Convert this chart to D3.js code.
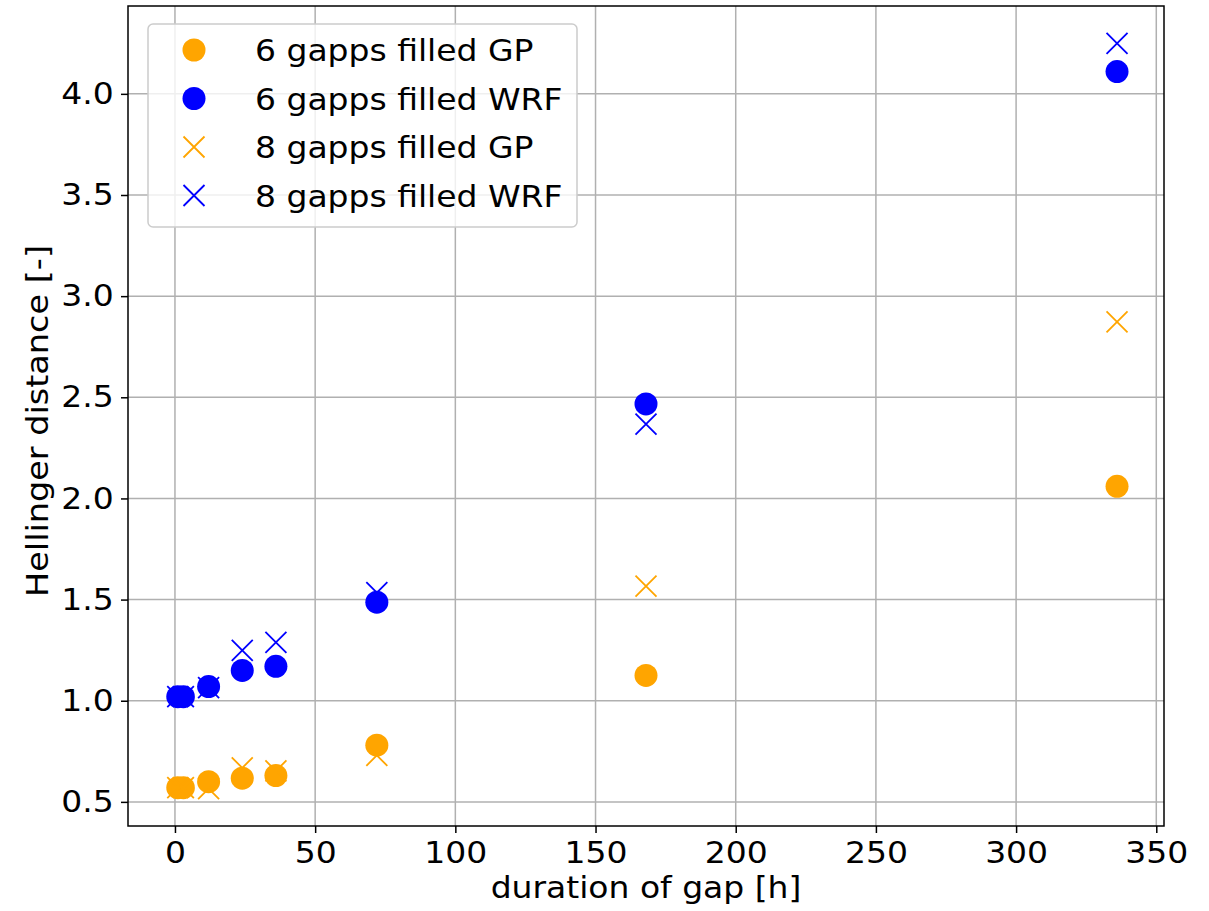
<!DOCTYPE html>
<html>
<head>
<meta charset="utf-8">
<script src="https://cdn.jsdelivr.net/npm/d3@7"></script>
<style>
  body { margin: 0; background: #fff; }
  text { font-family: "DejaVu Sans", sans-serif; }
</style>
</head>
<body>
<div id="chart"></div>
<script>
// gap durations in hours
var gapHours = [1, 3, 12, 24, 36, 72, 168, 336];

var gp6  = [0.57, 0.57, 0.60, 0.617, 0.63, 0.78, 1.125, 2.06];
var wrf6 = [1.02, 1.02, 1.07, 1.15, 1.17, 1.487, 2.467, 4.11];
var gp8  = [0.57, 0.57, 0.565, 0.668, 0.653, 0.73, 1.566, 2.873];
var wrf8 = [1.02, 1.02, 1.065, 1.249, 1.288, 1.534, 2.367, 4.25];

var xTicks = [0, 50, 100, 150, 200, 250, 300, 350];
var yTicks = [0.5, 1.0, 1.5, 2.0, 2.5, 3.0, 3.5, 4.0];

var seriesNames = ["6 gapps filled GP", "6 gapps filled WRF", "8 gapps filled GP", "8 gapps filled WRF"];

var W = 1209, H = 911;
var margin = {left: 128, right: 45, top: 6, bottom: 85};
var sx = 1.1; // the picture's text is a bit wide

var series = [
  {name: seriesNames[0], vals: gp6,  color: "orange", shape: "circle"},
  {name: seriesNames[1], vals: wrf6, color: "blue",   shape: "circle"},
  {name: seriesNames[2], vals: gp8,  color: "orange", shape: "cross"},
  {name: seriesNames[3], vals: wrf8, color: "blue",   shape: "cross"}
];

// matplotlib-like 5% padding
var xr = d3.extent(gapHours), xpad = (xr[1] - xr[0]) * 0.05;
var allY = [].concat(gp6, wrf6, gp8, wrf8);
var yr = d3.extent(allY), ypad = (yr[1] - yr[0]) * 0.05;

var x = d3.scaleLinear().domain([xr[0] - 1 - xpad, xr[1] + xpad]).range([margin.left, W - margin.right]);
var y = d3.scaleLinear().domain([yr[0] - ypad, yr[1] + ypad]).range([H - margin.bottom, margin.top]);

var svg = d3.select("#chart").append("svg")
  .attr("width", W)
  .attr("height", H);

// grid
svg.append("g").selectAll("line.gx")
  .data(xTicks).enter().append("line")
  .attr("x1", function(d){ return x(d); }).attr("x2", function(d){ return x(d); })
  .attr("y1", margin.top).attr("y2", H - margin.bottom)
  .attr("stroke", "#b0b0b0").attr("stroke-width", 1.5);
svg.append("g").selectAll("line.gy")
  .data(yTicks).enter().append("line")
  .attr("y1", function(d){ return y(d); }).attr("y2", function(d){ return y(d); })
  .attr("x1", margin.left).attr("x2", W - margin.right)
  .attr("stroke", "#b0b0b0").attr("stroke-width", 1.5);

// axes
var xAxis = svg.append("g")
  .attr("transform", "translate(0," + (H - margin.bottom) + ")")
  .call(d3.axisBottom(x).tickValues(xTicks).tickFormat(d3.format("d")).tickSize(7).tickPadding(6));
var yAxis = svg.append("g")
  .attr("transform", "translate(" + margin.left + ",0)")
  .call(d3.axisLeft(y).tickValues(yTicks).tickFormat(d3.format(".1f")).tickSize(7).tickPadding(6));

[xAxis, yAxis].forEach(function(a){
  a.select(".domain").remove();
  a.selectAll(".tick line").attr("stroke", "#000").attr("stroke-width", 1.5);
  a.selectAll(".tick text").attr("fill", "#000").style("font-size", "30px")
    .attr("transform", "scale(" + sx + ",1)");
});
xAxis.selectAll(".tick text").attr("dy", "0.8em");

// spines
svg.append("rect")
  .attr("x", margin.left).attr("y", margin.top)
  .attr("width", W - margin.left - margin.right)
  .attr("height", H - margin.top - margin.bottom)
  .attr("fill", "none").attr("stroke", "#000").attr("stroke-width", 1.5);

// axis titles
svg.append("text")
  .attr("transform", "translate(" + ((margin.left + W - margin.right) / 2) + "," + (H - 13) + ") scale(" + sx + ",1)")
  .attr("text-anchor", "middle")
  .style("font-size", "30px")
  .text("duration of gap [h]");
svg.append("text")
  .attr("transform", "translate(48,421) rotate(-90) scale(1,0.92)")
  .attr("text-anchor", "middle")
  .style("font-size", "33.5px")
  .text("Hellinger distance [-]");

function drawMarker(g, shape, color, cx, cy) {
  if (shape === "circle") {
    g.append("circle").attr("cx", cx).attr("cy", cy).attr("r", 11.5).attr("fill", color);
  } else {
    var s = 10.5;
    g.append("path")
      .attr("d", "M" + (cx - s) + "," + (cy - s) + "L" + (cx + s) + "," + (cy + s) +
                 "M" + (cx - s) + "," + (cy + s) + "L" + (cx + s) + "," + (cy - s))
      .attr("stroke", color).attr("stroke-width", 1.8).attr("fill", "none");
  }
}

// points
var plot = svg.append("g");
series.forEach(function(s){
  var g = plot.append("g");
  gapHours.forEach(function(h, i){
    drawMarker(g, s.shape, s.color, x(h), y(s.vals[i]));
  });
});

// legend
var legend = svg.append("g").attr("class", "legend");
legend.append("rect")
  .attr("x", 148).attr("y", 24).attr("width", 429).attr("height", 203)
  .attr("rx", 5).attr("ry", 5)
  .attr("fill", "#fff").attr("fill-opacity", 0.8)
  .attr("stroke", "#ccc").attr("stroke-width", 1.5);
series.forEach(function(s, i){
  var cy = 50 + i * 48.5;
  drawMarker(legend, s.shape, s.color, 194, cy);
  legend.append("text")
    .attr("transform", "translate(255," + (cy + 11) + ") scale(" + sx + ",1)")
    .style("font-size", "30px")
    .attr("fill", "#000")
    .text(s.name);
});
</script>
</body>
</html>
